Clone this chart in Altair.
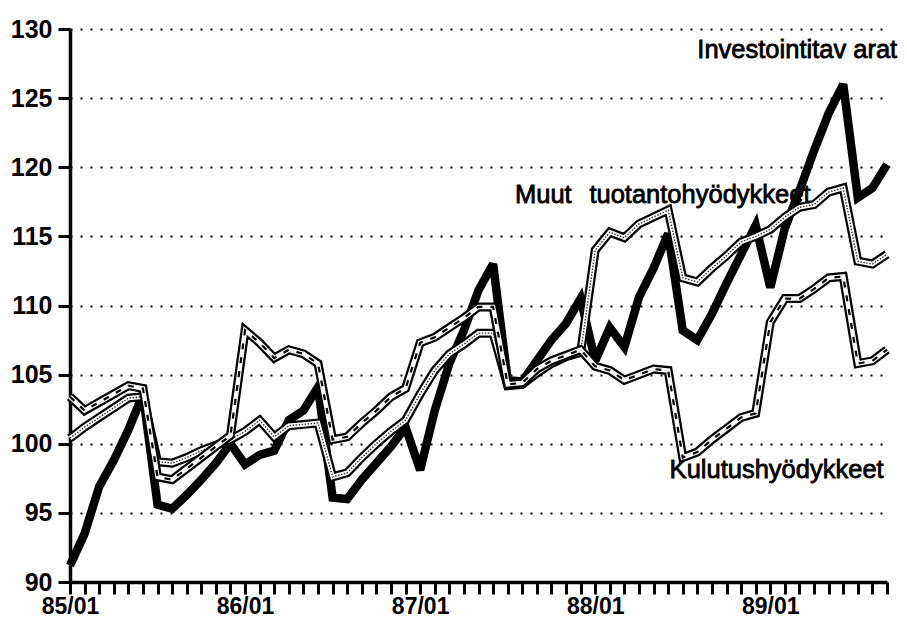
import altair as alt
import pandas as pd

# Monthly index 85/01 .. 89/09 (57 months)
year_labels = ["85/01", "86/01", "87/01", "88/01", "89/01"]
n_months = 57

investointitavarat = [
    91.2, 93.5, 96.9, 98.8, 101.0, 103.6, 95.6, 95.3, 96.3, 97.4, 98.6, 100.0,
    98.5, 99.2, 99.5, 101.7, 102.4, 104.1, 96.1, 96.0, 97.4, 98.6, 99.8, 101.2,
    98.1, 102.4, 105.8, 108.2, 111.1, 113.0, 104.6, 104.5, 106.0, 107.5, 108.7, 110.5,
    106.0, 108.4, 107.0, 110.6, 112.7, 115.2, 108.2, 107.5, 109.4, 111.6, 113.7, 115.8,
    111.3, 115.6, 118.3, 121.2, 123.9, 126.0, 117.8, 118.5, 120.2,
]
muut = [
    100.4, 101.2, 101.9, 102.6, 103.3, 103.4, 98.7, 98.6, 99.0, 99.5, 99.9, 100.3,
    100.9, 101.7, 100.5, 101.3, 101.4, 101.5, 97.6, 97.9, 99.0, 100.0, 100.9, 101.7,
    103.6, 105.3, 106.5, 107.2, 108.0, 108.0, 104.2, 104.3, 105.1, 105.8, 106.3, 106.6,
    114.0, 115.3, 114.9, 115.9, 116.4, 116.9, 112.0, 111.7, 112.7, 113.6, 114.6, 115.0,
    115.5, 116.4, 117.1, 117.3, 118.2, 118.5, 113.2, 113.0, 113.7,
]
kulutus = [
    103.4, 102.4, 103.0, 103.6, 104.2, 104.0, 97.6, 97.4, 98.2, 99.0, 99.8, 100.6,
    108.2, 107.3, 106.2, 106.8, 106.5, 105.8, 100.3, 100.5, 101.5, 102.4, 103.4, 104.0,
    107.3, 107.7, 108.4, 109.1, 109.9, 109.9, 104.3, 104.4, 105.4, 106.0, 106.4, 106.8,
    105.6, 105.3, 104.6, 105.0, 105.4, 105.3, 99.0, 99.4, 100.3, 101.1, 101.9, 102.2,
    108.8, 110.5, 110.5, 111.2, 112.0, 112.1, 105.8, 106.0, 106.8,
]

label_texts = ["Investointitav arat", "Muut", "tuotantohyödykkeet", "Kulutushyödykkeet"]
label_m = [43.0, 30.5, 35.6, 41.1]
label_v = [127.9, 117.4, 117.4, 97.5]

idx = list(range(n_months))
df = pd.DataFrame({
    "m": idx * 3,
    "v": investointitavarat + muut + kulutus,
    "s": ["inv"] * n_months + ["muut"] * n_months + ["kul"] * n_months,
})
lab = pd.DataFrame({"m": label_m, "v": label_v, "t": label_texts})

arr = "[" + ",".join("'%s'" % s for s in year_labels) + "]"
xenc = alt.X(
    "m:Q",
    scale=alt.Scale(domain=[0, n_months - 1], nice=False, zero=False),
    axis=alt.Axis(
        values=idx,
        labelExpr="datum.value % 12 == 0 ? " + arr + "[datum.value / 12] : ''",
        tickSize=12, tickWidth=3, tickColor="black",
        domainColor="black", domainWidth=3.5,
        labelFontSize=23, labelFontWeight="bold", labelColor="black",
        labelPadding=1, labelFlush=False, labelOverlap=False,
        grid=False, title=None,
    ),
)
yenc = alt.Y(
    "v:Q",
    scale=alt.Scale(domain=[90, 130], nice=False, zero=False),
    axis=alt.Axis(
        values=[90, 95, 100, 105, 110, 115, 120, 125, 130],
        tickSize=12, tickWidth=3, tickColor="black",
        domainColor="black", domainWidth=3.5,
        labelFontSize=25, labelFontWeight="bold", labelColor="black",
        labelPadding=6, grid=True, gridColor="black", gridWidth=2,
        gridDash=[2, 8], title=None,
    ),
)

base = alt.Chart(df).encode(x=xenc, y=yenc)

def sel(name):
    return base.transform_filter(alt.datum.s == name)

J = dict(strokeJoin="miter", strokeMiterLimit=3)
inv_line = sel("inv").mark_line(color="black", strokeWidth=8.5, **J)

muut_out = sel("muut").mark_line(color="black", strokeWidth=9, **J)
muut_in = sel("muut").mark_line(color="white", strokeWidth=4.5, **J)
muut_dot = sel("muut").mark_line(color="#333", strokeWidth=1.4, strokeDash=[1.5, 1.5])

kul_out = sel("kul").mark_line(color="black", strokeWidth=9, **J)
kul_in = sel("kul").mark_line(color="white", strokeWidth=4.5, **J)
kul_dash = sel("kul").mark_line(color="black", strokeWidth=2.2, strokeDash=[6, 8])

texts = alt.Chart(lab).mark_text(
    align="left", baseline="alphabetic", fontSize=25.5, font="Liberation Sans",
    color="black", stroke="black", strokeWidth=0.8,
).encode(x=xenc, y=yenc, text="t:N")

chart = alt.layer(
    inv_line, muut_out, muut_in, muut_dot, kul_out, kul_in, kul_dash, texts
).properties(
    width=817, height=553,
    autosize=alt.AutoSizeParams(type="none"),
    padding={"left": 62, "top": 21, "right": 12, "bottom": 40},
).configure(font="Liberation Sans").configure_view(stroke=None)

chart.save("out.html", embed_options={"renderer": "svg", "actions": False})
